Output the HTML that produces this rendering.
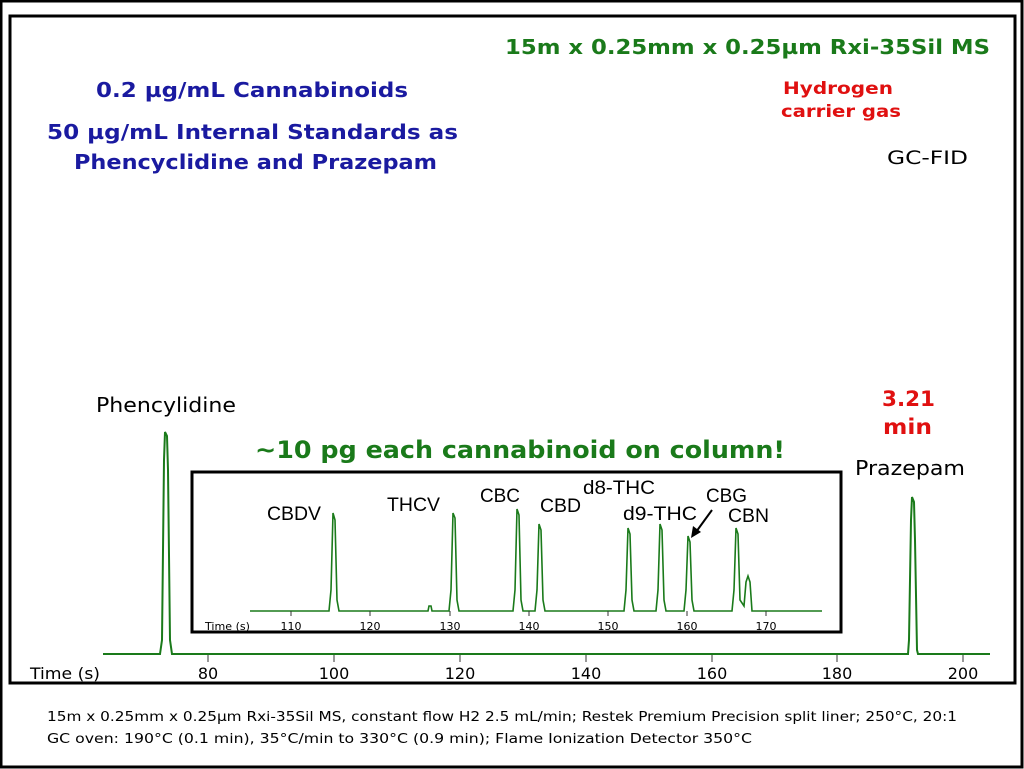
<!DOCTYPE html>
<html><head><meta charset="utf-8"><style>
html,body{margin:0;padding:0;background:#fff;}
svg{display:block;}
</style></head><body>
<svg width="1024" height="769" viewBox="0 0 1024 769" xmlns="http://www.w3.org/2000/svg">
<rect x="1" y="1" width="1021" height="766" fill="#fff" stroke="#000" stroke-width="3"/>
<rect x="10" y="16" width="1005" height="667" fill="#fff" stroke="#000" stroke-width="3"/>
<g font-family="'DejaVu Sans', Verdana, sans-serif">
<text x="505" y="54" font-size="20" font-weight="bold" fill="#1a7a1a" textLength="485" lengthAdjust="spacingAndGlyphs">15m x 0.25mm x 0.25µm Rxi-35Sil MS</text>
<text x="96" y="97" font-size="20" font-weight="bold" fill="#1a1aa0" textLength="312" lengthAdjust="spacingAndGlyphs">0.2 µg/mL Cannabinoids</text>
<text x="47" y="139" font-size="20" font-weight="bold" fill="#1a1aa0" textLength="411" lengthAdjust="spacingAndGlyphs">50 µg/mL Internal Standards as</text>
<text x="74" y="169" font-size="20" font-weight="bold" fill="#1a1aa0" textLength="363" lengthAdjust="spacingAndGlyphs">Phencyclidine and Prazepam</text>
<text x="783" y="94" font-size="17" font-weight="bold" fill="#e01010" textLength="110" lengthAdjust="spacingAndGlyphs">Hydrogen</text>
<text x="781" y="117" font-size="17" font-weight="bold" fill="#e01010" textLength="120" lengthAdjust="spacingAndGlyphs">carrier gas</text>
<text x="887" y="164" font-size="19" fill="#000" textLength="81" lengthAdjust="spacingAndGlyphs">GC-FID</text>
<text x="96" y="412" font-size="20" fill="#000" textLength="140" lengthAdjust="spacingAndGlyphs">Phencylidine</text>
<text x="882" y="406" font-size="21" font-weight="bold" fill="#e01010" textLength="53" lengthAdjust="spacingAndGlyphs">3.21</text>
<text x="883" y="434" font-size="21" font-weight="bold" fill="#e01010" textLength="49" lengthAdjust="spacingAndGlyphs">min</text>
<text x="855" y="475" font-size="20" fill="#000" textLength="110" lengthAdjust="spacingAndGlyphs">Prazepam</text>
<text x="255" y="458" font-size="24" font-weight="bold" fill="#1a7a1a" textLength="530" lengthAdjust="spacingAndGlyphs">~10 pg each cannabinoid on column!</text>
</g>
<g stroke="#1a7a1a" stroke-width="2" fill="none">
<path d="M103 654 L160 654 L162 640 L164 460 L165 432 L167 436 L168 470 L170 640 L172 654 L908 654 L909 640 L911 520 L912 497 L914 502 L915 540 L917 650 L918 654 L990 654"/>
</g>
<g stroke="#333" stroke-width="1">
<line x1="208" y1="655" x2="208" y2="662"/><line x1="334" y1="655" x2="334" y2="662"/><line x1="460" y1="655" x2="460" y2="662"/><line x1="586" y1="655" x2="586" y2="662"/><line x1="712" y1="655" x2="712" y2="662"/><line x1="837" y1="655" x2="837" y2="662"/><line x1="963" y1="655" x2="963" y2="662"/>
</g>
<g font-family="'DejaVu Sans', Verdana, sans-serif" font-size="16" fill="#000" text-anchor="middle">
<text x="30" y="679" text-anchor="start" textLength="70" lengthAdjust="spacingAndGlyphs">Time (s)</text>
<text x="208" y="679">80</text><text x="334" y="679">100</text><text x="460" y="679">120</text><text x="586" y="679">140</text><text x="712" y="679">160</text><text x="837" y="679">180</text><text x="963" y="679">200</text>
</g>
<rect x="192" y="472" width="649" height="160" fill="#fff" stroke="#000" stroke-width="3"/>
<path fill="none" stroke="#1a7a1a" stroke-width="1.6" d="M250 611 L329 611 L331 590 L333 513 L335 520 L337 600 L339 611 L428 611 L429 606 L431 606 L432 611 L449 611 L451 590 L453 513 L455 518 L457 600 L459 611 L513 611 L515 590 L517 509 L519 515 L521 600 L523 611 L535 611 L537 590 L539 524 L541 530 L543 600 L545 611 L624 611 L626 590 L628 528 L630 534 L632 600 L634 611 L656 611 L658 590 L660 524 L662 530 L664 600 L666 611 L684 611 L686 590 L688 536 L690 542 L692 600 L694 611 L732 611 L734 590 L736 528 L738 534 L740 600 L744 606 L746 582 L748 576 L750 582 L752 611 L822 611"/>
<g stroke="#333" stroke-width="1">
<line x1="291" y1="611" x2="291" y2="616"/><line x1="370" y1="611" x2="370" y2="616"/><line x1="450" y1="611" x2="450" y2="616"/><line x1="529" y1="611" x2="529" y2="616"/><line x1="608" y1="611" x2="608" y2="616"/><line x1="687" y1="611" x2="687" y2="616"/><line x1="766" y1="611" x2="766" y2="616"/>
</g>
<g font-family="'DejaVu Sans', Verdana, sans-serif" font-size="11" fill="#000" text-anchor="middle">
<text x="205" y="630" text-anchor="start" textLength="45" lengthAdjust="spacingAndGlyphs">Time (s)</text>
<text x="291" y="630">110</text><text x="370" y="630">120</text><text x="450" y="630">130</text><text x="529" y="630">140</text><text x="608" y="630">150</text><text x="687" y="630">160</text><text x="766" y="630">170</text>
</g>
<g font-family="'Liberation Sans', Arial, sans-serif" font-size="19" fill="#000">
<text x="267" y="520" textLength="54" lengthAdjust="spacingAndGlyphs">CBDV</text>
<text x="387" y="511" textLength="53" lengthAdjust="spacingAndGlyphs">THCV</text>
<text x="480" y="502" textLength="40" lengthAdjust="spacingAndGlyphs">CBC</text>
<text x="540" y="512" textLength="41" lengthAdjust="spacingAndGlyphs">CBD</text>
<text x="583" y="494" textLength="72" lengthAdjust="spacingAndGlyphs">d8-THC</text>
<text x="623" y="520" textLength="74" lengthAdjust="spacingAndGlyphs">d9-THC</text>
<text x="706" y="502" textLength="41" lengthAdjust="spacingAndGlyphs">CBG</text>
<text x="728" y="522" textLength="41" lengthAdjust="spacingAndGlyphs">CBN</text>
</g>
<line x1="712" y1="510" x2="696" y2="532" stroke="#000" stroke-width="2"/>
<path d="M691 538 L693 526 L701 532 Z" fill="#000"/>
<g font-family="'DejaVu Sans', Verdana, sans-serif" font-size="13" fill="#000">
<text x="47" y="721" textLength="910" lengthAdjust="spacingAndGlyphs">15m x 0.25mm x 0.25µm Rxi-35Sil MS, constant flow H2 2.5 mL/min; Restek Premium Precision split liner; 250°C, 20:1</text>
<text x="47" y="743" textLength="705" lengthAdjust="spacingAndGlyphs">GC oven: 190°C (0.1 min), 35°C/min to 330°C (0.9 min); Flame Ionization Detector 350°C</text>
</g>
</svg>
</body></html>
